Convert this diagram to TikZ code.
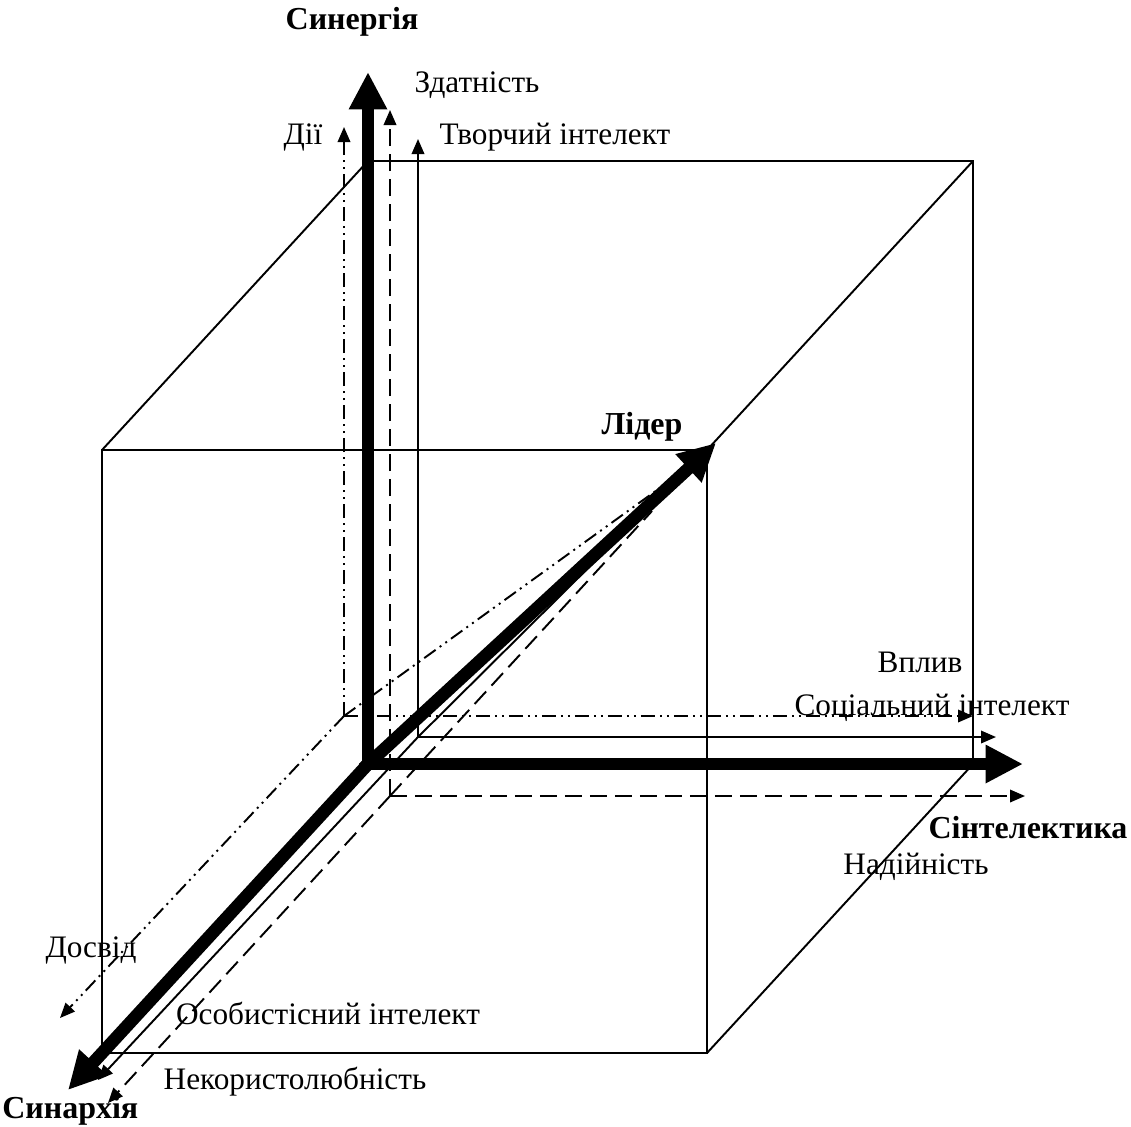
\documentclass[tikz,border=0pt]{standalone}
\usepackage{fontspec}
\setmainfont{Liberation Serif}
\usetikzlibrary{arrows.meta}

\tikzset{
	bigaxis/.style={line width=7.2pt, line cap=rect, -{Triangle[length=0.75cm,width=0.72cm]}},
	cubeedge/.style={line width=1.1pt, line join=miter},
	thinarrow/.style={line width=1.1pt, -{Triangle[length=0.3cm,width=0.25cm]}},
	dashdotdot/.style={dash pattern=on 0.28cm off 0.1cm on 0.04cm off 0.1cm on 0.04cm off 0.1cm},
	longdash/.style={dash pattern=on 0.34cm off 0.16cm},
	lab/.style={inner sep=0pt, font=\fontsize{17.8}{21}\selectfont},
	boldlab/.style={inner sep=0pt, font=\fontsize{18.2}{21}\selectfont\bfseries}
}

\begin{document}
\begin{tikzpicture}[x=0.02cm, y=-0.02cm]
			\useasboundingbox (0, 0) rectangle (1131, 1126);

			\coordinate (f1) at (102, 450);
			\coordinate (f2) at (707, 450);
			\coordinate (f3) at (707, 1053);
			\coordinate (f4) at (102, 1053);
			\coordinate (b1) at (368, 161);
			\coordinate (b2) at (973, 161);
			\coordinate (b3) at (973, 764);
			\coordinate (b4) at (368, 764);

			\draw [cubeedge] (f1) -- (f2) -- (f3) -- (f4) -- cycle;
			\draw [cubeedge] (b1) -- (b2) -- (b3) -- (b4) -- cycle;
			\draw [cubeedge] (f1) -- (b1);
			\draw [cubeedge] (f2) -- (b2);
			\draw [cubeedge] (f3) -- (b3);
			\draw [cubeedge] (f4) -- (b4);

			\coordinate (d0) at (344, 716);
			\coordinate (dup) at (344, 127);
			\coordinate (dright) at (973, 716);
			\coordinate (ddown) at (60, 1018);
			\coordinate (dlid) at (657, 490);

			\draw [thinarrow, dashdotdot] (d0) -- (dup);
			\draw [thinarrow, dashdotdot] (d0) -- (dright);
			\draw [thinarrow, dashdotdot] (d0) -- (ddown);
			\draw [line width=1.1pt, dashdotdot] (d0) -- (dlid);

			\coordinate (s0) at (390, 796);
			\coordinate (sup) at (390, 110);
			\coordinate (sright) at (1025, 796);
			\coordinate (sdown) at (108, 1103);
			\coordinate (slid) at (652, 511);

			\draw [thinarrow, longdash] (s0) -- (sup);
			\draw [thinarrow, longdash] (s0) -- (sright);
			\draw [thinarrow, longdash] (s0) -- (sdown);
			\draw [line width=1.1pt, longdash] (s0) -- (slid);

			\coordinate (t0) at (418, 737);
			\coordinate (tup) at (418, 139);
			\coordinate (tright) at (996, 737);
			\coordinate (tdown) at (98, 1080);

			\draw [thinarrow] (t0) -- (tup);
			\draw [thinarrow] (t0) -- (tright);
			\draw [thinarrow] (t0) -- (tdown);
			\draw [line width=1.1pt] (t0) -- (f2);

			\coordinate (o) at (368, 764);
			\coordinate (synergytip) at (368, 72);
			\coordinate (sinteltip) at (1023, 764);
			\coordinate (synarchtip) at (68, 1090);
			\coordinate (lidertip) at (716, 443);

			\draw [bigaxis] (o) -- (synergytip);
			\draw [bigaxis] (o) -- (sinteltip);
			\draw [bigaxis] (o) -- (synarchtip);
			\draw [bigaxis] (o) -- (lidertip);

			\node [boldlab] (synergy) at (352, 22) {Синергія};
			\node [boldlab] (sintel) at (1028, 828) {Сінтелектика};
			\node [boldlab, anchor=west] (synarch) at (2, 1111) {Синархія};
			\node [boldlab] (lider) at (642, 427) {Лідер};

			\node [lab] (zdatn) at (477, 85) {Здатність};
			\node [lab] (dii) at (303, 137) {Дії};
			\node [lab] (tvorch) at (555, 137) {Творчий інтелект};
			\node [lab] (vplyv) at (920, 662) {Вплив};
			\node [lab] (social) at (932, 708) {Соціальний інтелект};
			\node [lab] (nadiin) at (916, 867) {Надійність};
			\node [lab] (dosvid) at (91, 950) {Досвід};
			\node [lab] (osob) at (328, 1013) {Особистісний інтелект};
			\node [lab] (nekor) at (295, 1082) {Некористолюбність};
		\end{tikzpicture}
\end{document}
